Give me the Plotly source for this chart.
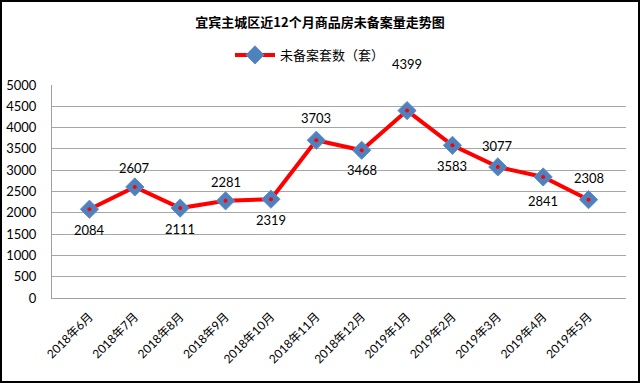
import plotly.graph_objects as go

months = ["2018年6月", "2018年7月", "2018年8月", "2018年9月", "2018年10月", "2018年11月",
          "2018年12月", "2019年1月", "2019年2月", "2019年3月", "2019年4月", "2019年5月"]
values = [2084, 2607, 2111, 2281, 2319, 3703, 3468, 4399, 3583, 3077, 2841, 2308]
label_shift = [-21, 19, -21, 19, -21, 22, -20, 47, -21, 21, -24, 22]

W, H = 640, 383
L, R, T, B = 52, 14, 85, 85
pw, ph = W - L - R, H - T - B

font_fam = "Lato, Noto Sans CJK SC, sans-serif"

fig = go.Figure()
fig.add_trace(go.Scatter(
    x=months, y=values, mode="lines+markers", name="未备案套数（套）",
    line=dict(color="#FF0000", width=4),
    marker=dict(symbol="diamond", size=14, color="#4F81BD", line=dict(color="#5B8ED0", width=1)),
))
fig.add_trace(go.Scatter(
    x=months, y=values, mode="markers", showlegend=False, hoverinfo="skip",
    marker=dict(symbol="circle", size=4, color="#FF0000"),
))

for m, v, s in zip(months, values, label_shift):
    fig.add_annotation(x=m, y=v, text=str(v), showarrow=False, yshift=s,
                       font=dict(size=13, color="#000000", family=font_fam))

fig.add_shape(type="rect", xref="paper", yref="paper",
              x0=(1 - L) / pw, x1=(W - 1 - L) / pw,
              y0=(1 - B) / ph, y1=(H - 1 - B) / ph,
              line=dict(color="#000000", width=2))

fig.update_layout(
    width=W, height=H,
    margin=dict(l=L, r=R, t=T, b=B, autoexpand=False),
    paper_bgcolor="white", plot_bgcolor="white",
    font=dict(family=font_fam, color="#000000"),
    title=dict(text="<b>宜宾主城区近12个月商品房未备案量走势图</b>", x=0.5, xanchor="center",
               y=1 - 22 / H, yanchor="middle", font=dict(size=13, family="Noto Sans CJK SC")),
    legend=dict(orientation="h", xref="container", yref="container",
                x=310 / W, xanchor="center", y=1 - 55 / H,
                yanchor="middle", font=dict(size=13, family="Noto Sans CJK SC"),
                bgcolor="rgba(0,0,0,0)", itemwidth=40),
    showlegend=True,
    xaxis=dict(showgrid=False, showline=True, linecolor="#A0A0A0", linewidth=1, automargin=False,
               tickangle=-45, tickfont=dict(size=12), ticks="", fixedrange=True,
               ticklabelstandoff=6),
    yaxis=dict(range=[0, 5000], dtick=500, showgrid=True, gridcolor="#A6A6A6", gridwidth=1,
               showline=True, linecolor="#A0A0A0", linewidth=1, zeroline=False, automargin=False,
               tickfont=dict(size=13), ticks="", fixedrange=True, ticklabelstandoff=12),
)

fig.write_html("out.html", config={"displayModeBar": False},
               post_script="document.body.style.margin='0';document.body.style.overflow='hidden';")
